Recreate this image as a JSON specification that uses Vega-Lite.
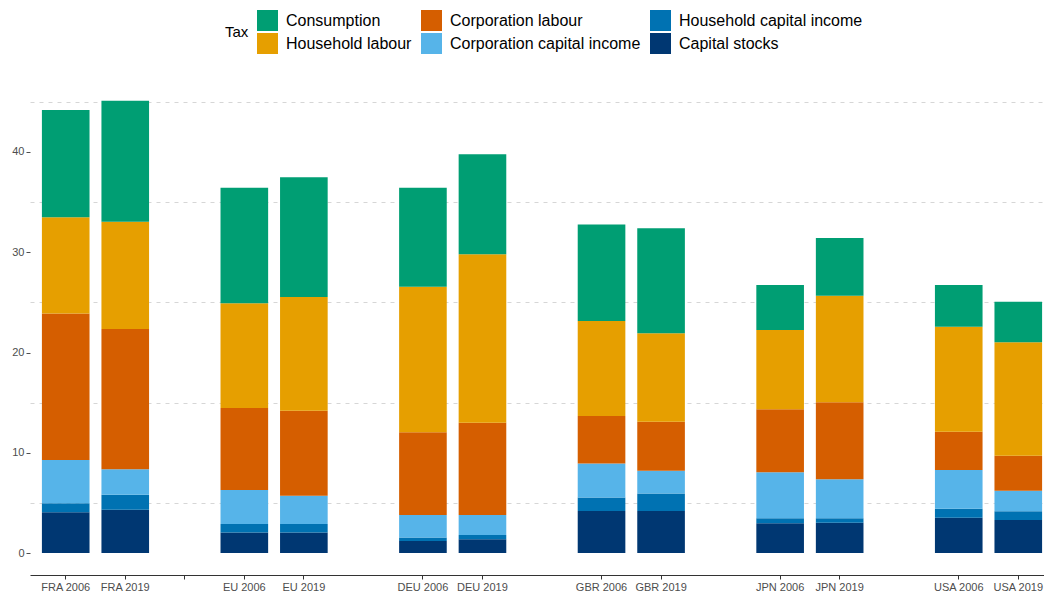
{
  "$schema": "https://vega.github.io/schema/vega-lite/v6.json",
  "autosize": {"type": "none"},
  "width": 1014,
  "height": 497,
  "padding": {"left": 30, "top": 78, "right": 0, "bottom": 20},
  "background": "white",
  "config": {
    "view": {"stroke": null},
    "font": "Liberation Sans"
  },
  "data": {
    "values": [
      {"bar": "FRA 2006", "Capital stocks": 4.06, "Household capital income": 0.90, "Corporation capital income": 4.32, "Corporation labour": 14.62, "Household labour": 9.60, "Consumption": 10.70},
      {"bar": "FRA 2019", "Capital stocks": 4.32, "Household capital income": 1.50, "Corporation capital income": 2.53, "Corporation labour": 14.00, "Household labour": 10.70, "Consumption": 12.05},
      {"bar": "EU 2006", "Capital stocks": 2.06, "Household capital income": 0.83, "Corporation capital income": 3.39, "Corporation labour": 8.18, "Household labour": 10.45, "Consumption": 11.53},
      {"bar": "EU 2019", "Capital stocks": 2.06, "Household capital income": 0.83, "Corporation capital income": 2.83, "Corporation labour": 8.48, "Household labour": 11.34, "Consumption": 11.93},
      {"bar": "DEU 2006", "Capital stocks": 1.20, "Household capital income": 0.36, "Corporation capital income": 2.23, "Corporation labour": 8.25, "Household labour": 14.53, "Consumption": 9.87},
      {"bar": "DEU 2019", "Capital stocks": 1.37, "Household capital income": 0.43, "Corporation capital income": 1.99, "Corporation labour": 9.21, "Household labour": 16.80, "Consumption": 9.97},
      {"bar": "GBR 2006", "Capital stocks": 4.19, "Household capital income": 1.36, "Corporation capital income": 3.39, "Corporation labour": 4.73, "Household labour": 9.47, "Consumption": 9.64},
      {"bar": "GBR 2019", "Capital stocks": 4.19, "Household capital income": 1.76, "Corporation capital income": 2.26, "Corporation labour": 4.89, "Household labour": 8.81, "Consumption": 10.48},
      {"bar": "JPN 2006", "Capital stocks": 2.96, "Household capital income": 0.50, "Corporation capital income": 4.59, "Corporation labour": 6.28, "Household labour": 7.91, "Consumption": 4.49},
      {"bar": "JPN 2019", "Capital stocks": 3.03, "Household capital income": 0.43, "Corporation capital income": 3.89, "Corporation labour": 7.68, "Household labour": 10.64, "Consumption": 5.75},
      {"bar": "USA 2006", "Capital stocks": 3.52, "Household capital income": 0.90, "Corporation capital income": 3.86, "Corporation labour": 3.82, "Household labour": 10.47, "Consumption": 4.16},
      {"bar": "USA 2019", "Capital stocks": 3.29, "Household capital income": 0.87, "Corporation capital income": 2.05, "Corporation labour": 3.50, "Household labour": 11.31, "Consumption": 4.05}
    ]
  },
  "transform": [
    {"fold": ["Capital stocks", "Household capital income", "Corporation capital income", "Corporation labour", "Household labour", "Consumption"], "as": ["tax", "value"]},
    {"calculate": "indexof(['Capital stocks', 'Household capital income', 'Corporation capital income', 'Corporation labour', 'Household labour', 'Consumption'], datum.tax)", "as": "stackorder"}
  ],
  "mark": {"type": "bar"},
  "encoding": {
    "x": {
      "field": "bar",
      "type": "nominal",
      "scale": {
        "domain": ["FRA 2006", "FRA 2019", "_1", "EU 2006", "EU 2019", "_2", "DEU 2006", "DEU 2019", "_3", "GBR 2006", "GBR 2019", "_4", "JPN 2006", "JPN 2019", "_5", "USA 2006", "USA 2019"],
        "range": [0, 1024],
        "paddingInner": 0.2,
        "paddingOuter": 0.2
      },
      "axis": {
        "title": null,
        "labelAngle": 0,
        "labelExpr": "indexof(datum.value, '_') === 0 ? '' : datum.label",
        "labelFont": "Liberation Sans",
        "labelFontSize": 11,
        "labelColor": "#4d4d4d",
        "labelPadding": 2,
        "tickSize": 4,
        "tickColor": "#333333",
        "tickOpacity": {"condition": {"test": "indexof(['_2','_3','_4','_5'], datum.value) >= 0", "value": 0}, "value": 1},
        "domainColor": "#333333",
        "domainWidth": 1.2,
        "grid": false
      }
    },
    "y": {
      "field": "value",
      "type": "quantitative",
      "stack": "zero",
      "scale": {"domain": [-2.19, 47.38], "nice": false, "zero": false},
      "axis": {
        "title": null,
        "values": [0, 5, 10, 15, 20, 25, 30, 35, 40, 45],
        "labelExpr": "datum.value % 10 === 0 ? datum.label : ''",
        "labelFont": "Liberation Sans",
        "labelFontSize": 11,
        "labelColor": "#4d4d4d",
        "labelPadding": 2,
        "tickSize": 4,
        "tickColor": "#4d4d4d",
        "tickOpacity": {"condition": {"test": "datum.value % 10 === 5", "value": 0}, "value": 1},
        "domain": false,
        "grid": true,
        "gridColor": "#d6d6d6",
        "gridDash": [4, 5],
        "gridWidth": 1,
        "gridOpacity": {"condition": {"test": "datum.value % 10 === 5", "value": 1}, "value": 0}
      }
    },
    "color": {
      "field": "tax",
      "type": "nominal",
      "scale": {
        "domain": ["Consumption", "Corporation labour", "Household capital income", "Household labour", "Corporation capital income", "Capital stocks"],
        "range": ["#009E73", "#D55E00", "#0072B2", "#E69F00", "#56B4E9", "#003772"]
      },
      "legend": {
        "title": "Tax",
        "orient": "none",
        "legendX": 195,
        "legendY": -68,
        "direction": "horizontal",
        "columns": 3,
        "padding": 0,
        "titleOrient": "left",
        "titleAnchor": "middle",
        "titleBaseline": "middle",
        "titlePadding": 8,
        "titleFont": "Liberation Sans",
        "titleFontSize": 15,
        "titleFontWeight": "normal",
        "titleColor": "#000000",
        "labelFont": "Liberation Sans",
        "labelFontSize": 16,
        "labelColor": "#000000",
        "labelOffset": 8,
        "labelLimit": 400,
        "symbolType": "square",
        "symbolSize": 441,
        "symbolStrokeWidth": 0,
        "symbolOpacity": 1,
        "rowPadding": 2,
        "columnPadding": 9
      }
    },
    "order": {"field": "stackorder", "type": "quantitative", "sort": "ascending"}
  }
}
